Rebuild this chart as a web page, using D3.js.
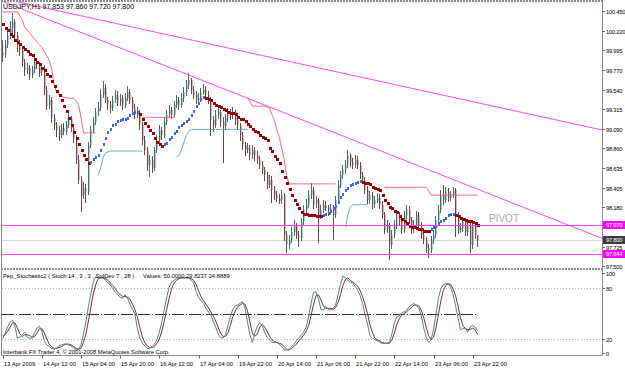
<!DOCTYPE html>
<html lang="en">
<head>
<meta charset="UTF-8">
<title>USDJPY,H1</title>
<script src="https://d3js.org/d3.v7.min.js"></script>
<style>
    body, html { margin: 0; padding: 0; overflow: hidden; background: #fff; }
    svg { display: block; font-family: "Liberation Sans", Arial, sans-serif; }
    .candle, .ma { shape-rendering: crispEdges; }
</style>
</head>
<body>
<svg width="625" height="368"></svg>
<script>
// ---- data (USDJPY H1, 13-24 Apr 2009) ----
const symbolTitle = "USDJPY,H1  97.853 97.860 97.720 97.800";

const timeTickBars = [0, 16, 32, 48, 64, 80, 96, 112, 128, 144, 160, 176, 192];
const timeTickLabels = ["13 Apr 2009", "14 Apr 12:00", "15 Apr 04:00", "15 Apr 20:00", "16 Apr 12:00",
    "17 Apr 04:00", "19 Apr 22:00", "20 Apr 14:00", "21 Apr 06:00", "21 Apr 22:00", "22 Apr 14:00",
    "23 Apr 06:00", "23 Apr 22:00"];

const priceTicks = [100.450, 100.220, 99.995, 99.770, 99.540, 99.315, 99.090, 98.860, 98.635, 98.405, 98.180, 97.725, 97.500];
const stochTicks = [100, 80, 20, 0];

const open = [
    99.98,99.94,100.06,100.16,100.25,100.32,100.17,100.06,100.00,99.86,
    99.77,99.79,99.71,99.77,99.86,99.83,99.74,99.79,99.54,99.36,
    99.42,99.21,99.13,99.07,99.01,99.10,99.05,99.13,99.21,99.10,
    98.98,98.73,98.50,98.32,98.40,98.36,98.90,99.07,99.17,99.28,
    99.33,99.48,99.56,99.42,99.36,99.33,99.42,99.48,99.39,99.44,
    99.36,99.44,99.51,99.42,99.33,99.25,99.28,99.13,98.96,98.84,
    98.67,98.73,98.63,98.84,98.96,99.07,99.01,99.17,99.25,99.30,
    99.25,99.36,99.42,99.36,99.44,99.51,99.59,99.65,99.54,99.48,
    99.42,99.44,99.51,99.54,99.48,99.42,99.19,99.13,99.25,99.28,
    99.17,99.12,99.21,99.28,99.25,99.28,99.19,99.13,99.01,98.90,
    98.84,98.86,98.78,98.84,98.78,98.73,98.67,98.61,98.55,98.44,
    98.50,98.38,98.32,98.29,98.26,98.32,97.86,97.74,97.80,97.89,
    97.97,97.86,97.82,98.01,98.15,98.21,98.32,98.38,98.21,98.26,
    98.09,98.15,98.21,98.17,98.13,98.17,98.09,98.26,98.44,98.55,
    98.61,98.67,98.78,98.70,98.67,98.73,98.67,98.55,98.50,98.38,
    98.26,98.32,98.21,98.26,98.29,98.21,98.09,97.92,97.97,97.74,
    97.86,97.97,98.09,98.03,97.92,98.09,98.15,98.03,97.92,97.97,
    98.09,97.97,97.86,97.80,97.71,97.69,97.80,97.86,98.03,98.15,
    98.32,98.26,98.36,98.29,98.32,98.38,98.09,97.92,97.94,98.01,
    97.89,97.97,97.74,97.97,97.853];
const high = [
    100.11,100.11,100.23,100.33,100.43,100.36,100.21,100.12,100.04,99.90,
    99.85,99.83,99.81,99.92,99.90,99.86,99.84,99.83,99.58,99.48,
    99.45,99.26,99.17,99.12,99.14,99.15,99.18,99.27,99.24,99.13,
    99.01,98.78,98.54,98.47,98.45,98.94,99.12,99.22,99.33,99.40,
    99.55,99.64,99.60,99.46,99.41,99.47,99.54,99.52,99.49,99.48,
    99.50,99.58,99.55,99.45,99.37,99.34,99.31,99.17,99.00,98.88,
    98.78,98.77,98.88,99.01,99.13,99.11,99.22,99.30,99.36,99.34,
    99.41,99.48,99.46,99.50,99.57,99.65,99.73,99.68,99.58,99.52,
    99.50,99.56,99.60,99.58,99.52,99.45,99.24,99.30,99.34,99.31,
    99.22,99.26,99.33,99.32,99.34,99.31,99.22,99.16,99.05,98.94,
    98.92,98.90,98.90,98.88,98.83,98.77,98.71,98.65,98.59,98.55,
    98.54,98.43,98.37,98.33,98.38,98.35,97.90,97.86,97.95,98.03,
    98.00,97.90,98.06,98.20,98.27,98.38,98.46,98.41,98.31,98.29,
    98.20,98.26,98.25,98.21,98.22,98.20,98.31,98.49,98.60,98.67,
    98.73,98.84,98.81,98.75,98.78,98.77,98.70,98.59,98.53,98.42,
    98.37,98.36,98.31,98.34,98.33,98.25,98.13,98.03,98.00,97.92,
    98.03,98.14,98.13,98.07,98.14,98.21,98.19,98.07,98.03,98.14,
    98.12,98.01,97.90,97.84,97.76,97.85,97.92,98.08,98.20,98.38,
    98.44,98.41,98.40,98.37,98.41,98.40,98.13,98.00,98.06,98.05,
    98.03,98.00,98.01,98.00,97.860];
const low = [
    99.85,99.90,100.02,100.12,100.20,100.12,99.98,99.93,99.80,99.70,
    99.72,99.66,99.67,99.74,99.78,99.69,99.70,99.48,99.30,99.32,
    99.15,99.07,99.00,98.95,98.98,99.01,99.02,99.10,99.06,98.92,
    98.68,98.44,98.12,98.27,98.23,98.33,98.86,99.03,99.13,99.24,
    99.30,99.44,99.38,99.31,99.27,99.30,99.39,99.35,99.35,99.31,
    99.33,99.41,99.38,99.28,99.20,99.21,99.08,98.90,98.78,98.60,
    98.52,98.57,98.60,98.80,98.92,98.96,98.98,99.13,99.21,99.20,
    99.22,99.33,99.31,99.33,99.40,99.47,99.55,99.49,99.43,99.37,
    99.38,99.40,99.47,99.44,99.37,99.00,99.06,99.09,99.20,99.11,
    98.69,99.08,99.17,99.19,99.20,99.14,99.07,98.95,98.84,98.78,
    98.80,98.73,98.74,98.72,98.68,98.62,98.56,98.49,98.39,98.40,
    98.23,98.27,98.24,98.21,98.22,97.80,97.65,97.70,97.76,97.85,
    97.81,97.72,97.79,97.97,98.11,98.17,98.28,98.16,98.17,97.77,
    98.04,98.11,98.13,98.08,98.09,97.80,98.05,98.22,98.40,98.51,
    98.57,98.63,98.65,98.62,98.63,98.62,98.50,98.45,98.33,98.21,
    98.22,98.16,98.17,98.22,98.16,98.04,97.87,97.88,97.57,97.70,
    97.82,97.93,97.98,97.87,97.88,98.05,97.98,97.87,97.88,97.93,
    97.92,97.81,97.75,97.66,97.60,97.65,97.76,97.82,97.99,98.11,
    98.21,98.22,98.24,98.25,98.28,97.83,97.87,97.88,97.90,97.84,
    97.85,97.65,97.70,97.82,97.720];
const close = [
    99.94,100.06,100.16,100.25,100.32,100.17,100.06,100.00,99.86,99.77,
    99.79,99.71,99.77,99.86,99.83,99.74,99.79,99.54,99.36,99.42,
    99.21,99.13,99.07,99.01,99.10,99.05,99.13,99.21,99.10,98.98,
    98.73,98.50,98.32,98.40,98.36,98.90,99.07,99.17,99.28,99.33,
    99.48,99.56,99.42,99.36,99.33,99.42,99.48,99.39,99.44,99.36,
    99.44,99.51,99.42,99.33,99.25,99.28,99.13,98.96,98.84,98.67,
    98.73,98.63,98.84,98.96,99.07,99.01,99.17,99.25,99.30,99.25,
    99.36,99.42,99.36,99.44,99.51,99.59,99.65,99.54,99.48,99.42,
    99.44,99.51,99.54,99.48,99.42,99.19,99.13,99.25,99.28,99.17,
    99.12,99.21,99.28,99.25,99.28,99.19,99.13,99.01,98.90,98.84,
    98.86,98.78,98.84,98.78,98.73,98.67,98.61,98.55,98.44,98.50,
    98.38,98.32,98.29,98.26,98.32,97.86,97.74,97.80,97.89,97.97,
    97.86,97.82,98.01,98.15,98.21,98.32,98.38,98.21,98.26,98.09,
    98.15,98.21,98.17,98.13,98.17,98.09,98.26,98.44,98.55,98.61,
    98.67,98.78,98.70,98.67,98.73,98.67,98.55,98.50,98.38,98.26,
    98.32,98.21,98.26,98.29,98.21,98.09,97.92,97.97,97.74,97.86,
    97.97,98.09,98.03,97.92,98.09,98.15,98.03,97.92,97.97,98.09,
    97.97,97.86,97.80,97.71,97.69,97.80,97.86,98.03,98.15,98.32,
    98.26,98.36,98.29,98.32,98.38,98.09,97.92,97.94,98.01,97.89,
    97.97,97.74,97.97,97.853,97.800];

// trend moving average (drawn dark red when falling, blue when rising)
const trendMA = [
    100.29,100.25,100.22,100.18,100.15,100.11,100.08,100.06,100.03,100.00,
    99.98,99.95,99.93,99.89,99.86,99.83,99.79,99.76,99.72,99.69,
    99.64,99.58,99.52,99.47,99.41,99.35,99.29,99.21,99.12,99.05,
    98.98,98.91,98.84,98.78,98.73,98.69,98.70,98.73,98.75,98.78,
    98.84,98.91,98.97,99.04,99.08,99.12,99.14,99.17,99.18,99.19,
    99.20,99.21,99.24,99.26,99.28,99.28,99.25,99.20,99.15,99.11,
    99.07,99.03,98.98,98.93,98.90,98.88,98.90,98.92,98.96,98.99,
    99.03,99.06,99.10,99.13,99.15,99.17,99.20,99.24,99.29,99.35,
    99.38,99.43,99.45,99.44,99.43,99.41,99.38,99.36,99.35,99.33,
    99.31,99.30,99.28,99.27,99.26,99.25,99.22,99.20,99.19,99.17,
    99.14,99.11,99.08,99.06,99.04,99.01,98.99,98.97,98.95,98.86,
    98.82,98.77,98.73,98.68,98.59,98.52,98.46,98.39,98.32,98.26,
    98.21,98.16,98.12,98.10,98.09,98.08,98.08,98.08,98.07,98.07,
    98.07,98.08,98.09,98.11,98.13,98.16,98.19,98.23,98.29,98.33,
    98.37,98.40,98.43,98.44,98.46,98.47,98.48,98.47,98.46,98.45,
    98.44,98.41,98.40,98.39,98.37,98.31,98.26,98.22,98.18,98.16,
    98.13,98.12,98.07,98.04,98.01,97.99,97.96,97.95,97.94,97.93,
    97.92,97.92,97.90,97.90,97.90,97.92,97.94,97.96,97.99,98.01,
    98.03,98.05,98.08,98.09,98.09,98.08,98.07,98.05,98.04,98.03,
    98.02,98.01,98.00,97.99,97.97];

// trailing stop lines: [first bar, values...]
const upperStop = [
    [0, [100.44,100.44,100.44,100.44,100.44,100.44,100.44,100.39,100.35,100.26,100.23,100.20,100.16,100.13,
         100.09,100.06,100.03,99.98,99.93,99.88,99.79,99.59,99.51,99.48,99.47,99.45,99.45,99.44,99.44,99.44,
         99.41,99.36,99.22,99.04,99.04,99.04,99.04,99.04,99.04]],
    [57, [99.22,99.22,99.22,99.22,99.22,99.22,99.22,99.22,99.22,99.22,99.22,99.22,99.22,99.22]],
    [100, [99.45,99.40,99.35,99.35,99.35,99.35,99.35,99.35,99.34,99.33,99.25,99.19,99.07,98.99,98.86,98.73,
           98.55,98.45,98.45,98.45,98.45,98.45,98.45,98.45,98.45,98.45,98.45,98.45,98.45,98.45,98.45,98.45,
           98.45,98.45,98.45,98.45,98.45]],
    [156, [98.41,98.41,98.41,98.41,98.41,98.41,98.41,98.41,98.41,98.41,98.41,98.41,98.41,98.41,98.41,98.41,
           98.41,98.41,98.37,98.32,98.32,98.32,98.32,98.32,98.32,98.32,98.32,98.32,98.32,98.32,98.32,98.32,
           98.32,98.32,98.32,98.32,98.32,98.32,98.32]]
];
const lowerStop = [
    [39, [98.55,98.63,98.75,98.81,98.82,98.83,98.83,98.83,98.83,98.83,98.83,98.83,98.83,98.83,98.83,98.83,
          98.83,98.83,98.83]],
    [71, [98.76,98.78,98.84,98.93,99.01,99.06,99.08,99.08,99.08,99.08,99.08,99.08,99.08,99.08,99.08,99.08,
          99.08,99.08,99.08,99.08,99.08,99.08,99.08,99.08,99.08,99.08,99.08,99.08,99.08,99.08]],
    [140, [97.95,98.09,98.18,98.21,98.21,98.21,98.21,98.21,98.21,98.21]]
];

// objects
const trendLines = [[[6.3, 100.554], [160, 99.60]], [[0, 100.56], [176, 98.59]]];
const pivotLevels = [97.970, 97.644];
const bidPrice = 97.800;

// Pep_Stochastic2 sub window
const stochMain = [
    21,27,34,40,42,35,21,22,25,28, 22,21,21,27,33,35,29,18,13,11,
    9,8,9,12,13,14,14,13,12,9, 7,8,13,26,40,58,73,87,93,92,
    92,92,89,86,84,79,75,72,69,68, 72,68,61,55,49,33,21,15,12,9,
    9,11,14,19,28,40,55,69,81,87, 89,91,92,92,92,92,92,89,86,76,
    69,65,62,56,52,48,41,34,26,22, 21,25,36,46,55,59,60,62,64,56,
    40,25,16,27,35,39,36,28,22,19, 16,16,16,14,11,7,7,8,11,14,
    18,21,25,28,34,47,62,75,75,67, 55,54,58,55,54,56,60,72,84,94,
    92,89,87,86,82,78,71,62,49,38, 24,21,19,18,16,15,15,15,16,26,
    39,46,47,51,52,54,58,60,62,59, 56,47,33,22,16,19,31,49,68,79,
    84,85,85,81,72,59,45,31,32,33, 28,34,36,34,30];
const stochSignal = [
    24,25,29,34,39,39,33,26,23,25, 25,24,22,23,27,32,32,27,20,14,
    11,9,9,10,11,13,14,14,13,11, 9,8,9,16,26,41,57,73,84,91,
    92,92,91,89,86,83,79,75,72,70, 70,69,67,61,55,46,34,23,16,12,
    10,10,11,15,20,29,41,55,68,79, 86,89,91,92,92,92,92,91,89,84,
    77,70,65,61,57,52,47,41,34,27, 23,23,27,36,46,53,58,60,62,61,
    53,40,27,23,26,34,37,34,29,23, 19,17,16,15,14,11,8,7,9,11,
    14,18,21,25,29,36,48,61,71,72, 66,59,56,56,56,55,57,63,72,83,
    90,92,89,87,85,82,77,70,61,50, 37,28,21,19,18,16,15,15,15,19,
    27,37,44,48,50,52,55,57,60,60, 59,54,45,34,24,19,22,33,49,65,
    77,83,85,84,79,71,59,45,36,32, 31,31,33,31,25];
const stochLevels = [80, 20];
const stochMid = 50;

// ---- layout ----
const svg = d3.select("svg");
const plotL = 2, plotR = 602;
const mainTop = 2, mainBot = 268, subTop = 270, subBot = 355.5;
const fs = 5.8;

const x = d3.scaleLinear().domain([0, 192]).range([2.7, 472.7]);
const y = d3.scaleLinear().domain([97.5, 100.45]).range([266, 11]);
const ys = d3.scaleLinear().domain([0, 100]).range([356, 271]);

svg.append("rect").attr("width", 625).attr("height", 368).attr("fill", "#fff");

const defs = svg.append("defs");
defs.append("clipPath").attr("id", "clipMain").append("rect")
    .attr("x", plotL).attr("y", mainTop).attr("width", plotR - plotL).attr("height", mainBot - mainTop);
defs.append("clipPath").attr("id", "clipSub").append("rect")
    .attr("x", plotL).attr("y", subTop).attr("width", plotR - plotL).attr("height", subBot - subTop);

const main = svg.append("g").attr("clip-path", "url(#clipMain)");
const sub = svg.append("g").attr("clip-path", "url(#clipSub)");

// bid line
main.append("line").attr("x1", plotL).attr("x2", plotR)
    .attr("y1", Math.round(y(bidPrice)) + 0.5).attr("y2", Math.round(y(bidPrice)) + 0.5)
    .attr("stroke", "#d4d4d4");

// candles
const bars = d3.range(close.length).map(i => ({i, o: open[i], h: high[i], l: low[i], c: close[i]}));
const cg = main.append("g").attr("class", "candle");
bars.forEach(d => {
    const xc = Math.floor(x(d.i));
    const up = d.c >= d.o;
    const top = y(Math.max(d.o, d.c)), bot = y(Math.min(d.o, d.c));
    cg.append("rect").attr("x", xc).attr("width", 2)
        .attr("y", Math.round(top)).attr("height", Math.max(1, Math.round(bot - top)))
        .attr("fill", up ? "#b3cccc" : "#d6bfbf");
    cg.append("rect").attr("x", xc).attr("width", 1)
        .attr("y", Math.round(y(d.h))).attr("height", Math.max(1, Math.round(y(d.l) - y(d.h))))
        .attr("fill", up ? "#3f6e6e" : "#6e4444");
});

// trailing stops
const stopLine = d3.line().x(d => x(d[0])).y(d => y(d[1]));
function drawStops(segs, color) {
    segs.forEach(([start, vals]) => {
        main.append("path").datum(vals.map((v, k) => [start + k, v]))
            .attr("d", stopLine).attr("fill", "none").attr("stroke", color).attr("stroke-width", 1);
    });
}
drawStops(upperStop, "#f0687a");
drawStops(lowerStop, "#62b4b4");

// trend MA as per-bar dashes
let rising = false;
const mg = main.append("g").attr("class", "ma");
trendMA.forEach((v, i) => {
    if (i > 0 && v !== trendMA[i - 1]) rising = v > trendMA[i - 1];
    mg.append("rect").attr("x", Math.floor(x(i))).attr("width", rising ? 2 : 3)
        .attr("y", Math.round(y(v) - 1.5)).attr("height", 3)
        .attr("fill", rising ? "#3d66e8" : "#990000");
});

// horizontal pivot lines and trendlines
pivotLevels.forEach(p => {
    main.append("line").attr("x1", plotL).attr("x2", plotR)
        .attr("y1", Math.round(y(p)) + 0.5).attr("y2", Math.round(y(p)) + 0.5)
        .attr("stroke", "#ff44ff");
});
trendLines.forEach(([a, b]) => {
    const slope = (y(b[1]) - y(a[1])) / (x(b[0]) - x(a[0]));
    main.append("line")
        .attr("x1", x(a[0])).attr("y1", y(a[1]))
        .attr("x2", plotR).attr("y2", y(a[1]) + slope * (plotR - x(a[0])))
        .attr("stroke", "#ff44ff").attr("stroke-width", 1);
});
main.append("text").attr("x", 489).attr("y", 222).attr("font-size", 10)
    .attr("fill", "#a8a8a8").text("PIVOT");

// sub window levels
stochLevels.forEach(v => {
    sub.append("line").attr("x1", plotL).attr("x2", plotR)
        .attr("y1", Math.round(ys(v)) + 0.5).attr("y2", Math.round(ys(v)) + 0.5)
        .attr("stroke", "#b4b4b4").attr("stroke-dasharray", "1,2");
});
sub.append("line").attr("x1", plotL).attr("x2", x(stochMain.length - 1))
    .attr("y1", Math.round(ys(stochMid)) + 0.5).attr("y2", Math.round(ys(stochMid)) + 0.5)
    .attr("stroke", "#5a1e1e").attr("stroke-dasharray", "12,2,1,2");

const sLine = d3.line().x((d, i) => x(i)).y(d => ys(d));
sub.append("path").datum(stochSignal).attr("d", sLine)
    .attr("fill", "none").attr("stroke", "#7a3030").attr("stroke-width", 1);
sub.append("path").datum(stochMain).attr("d", sLine)
    .attr("fill", "none").attr("stroke", "#4f8484").attr("stroke-width", 1);

// frame
const frame = svg.append("g").attr("stroke", "#8a8a8a").attr("fill", "none");
frame.append("line").attr("x1", 1.5).attr("x2", 1.5).attr("y1", 1).attr("y2", subBot);
frame.append("line").attr("x1", plotR + 0.5).attr("x2", plotR + 0.5).attr("y1", 0).attr("y2", subBot);
frame.append("line").attr("x1", 1).attr("x2", plotR).attr("y1", 1).attr("y2", 1)
    .attr("stroke-width", 2).attr("stroke-dasharray", "2,1");
frame.append("line").attr("x1", 1).attr("x2", plotR).attr("y1", 269).attr("y2", 269)
    .attr("stroke-width", 2).attr("stroke-dasharray", "2,1");
frame.append("line").attr("x1", 1).attr("x2", plotR + 1).attr("y1", subBot).attr("y2", subBot);

// price axis
const ax = svg.append("g").attr("font-size", fs).attr("fill", "#000");
const axLabel = (xx, yy, txt) => ax.append("text").attr("x", xx).attr("y", yy)
    .attr("letter-spacing", -0.25).text(txt);
priceTicks.forEach(p => {
    const yy = Math.round(y(p)) + 0.5;
    ax.append("line").attr("x1", plotR).attr("x2", plotR + 3).attr("y1", yy).attr("y2", yy).attr("stroke", "#666");
    axLabel(plotR + 4, yy + 2.1, p.toFixed(3));
});
[[pivotLevels[0], "#ff00ff"], [bidPrice, "#3c3c3c"], [pivotLevels[1], "#ff00ff"]].forEach(([p, col]) => {
    const yy = Math.round(y(p));
    ax.append("rect").attr("x", plotR + 1).attr("y", yy - 4).attr("width", 22).attr("height", 8).attr("fill", col);
    axLabel(plotR + 4, yy + 2.1, p.toFixed(3)).attr("fill", "#fff");
});
stochTicks.forEach(v => {
    const yy = v === 100 ? 273.5 : v === 0 ? 353.5 : Math.round(ys(v)) + 0.5;
    ax.append("line").attr("x1", plotR).attr("x2", plotR + 3).attr("y1", yy).attr("y2", yy).attr("stroke", "#666");
    axLabel(plotR + 4, yy + 2.1, v);
});

// time axis
timeTickBars.forEach((b, k) => {
    const xx = Math.round(x(b)) + 0.5;
    ax.append("line").attr("x1", xx).attr("x2", xx).attr("y1", subBot).attr("y2", subBot + 3).attr("stroke", "#666");
    ax.append("text").attr("x", xx + 0.5).attr("y", 365.5).text(timeTickLabels[k]);
});

// texts
svg.append("text").attr("x", 3).attr("y", 9).attr("font-size", 7).attr("fill", "#000").text(symbolTitle);
svg.append("text").attr("x", 3).attr("y", 277.5).attr("font-size", fs).attr("fill", "#000")
    .text("Pep_Stochastic2 ( Stoch 14 , 3 , 3 , StdDev 7 , 28 )");
svg.append("text").attr("x", 143).attr("y", 277.5).attr("font-size", fs).attr("fill", "#000")
    .text("Values: 50.0000 29.8237 24.8889");
svg.append("text").attr("x", 3).attr("y", 354).attr("font-size", fs).attr("fill", "#000")
    .text("Interbank FX Trader 4, \u00a9 2001-2008 MetaQuotes Software Corp.");
</script>
</body>
</html>
